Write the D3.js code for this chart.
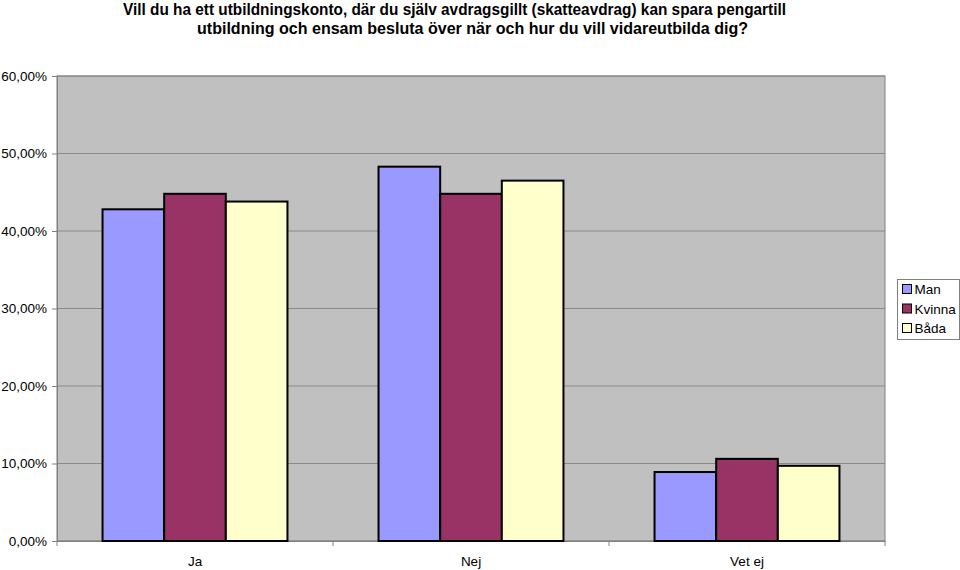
<!DOCTYPE html>
<html>
<head>
<meta charset="utf-8">
<script src="https://cdn.jsdelivr.net/npm/d3@7"></script>
<style>
  body { margin: 0; background: #fff; }
  text { font-family: Arial, "Liberation Sans", sans-serif; }
</style>
</head>
<body>
<div id="chart"></div>
<script>
var categories = ["Ja", "Nej", "Vet ej"];
var seriesNames = ["Man", "Kvinna", "Båda"];
var man = [42.8, 48.3, 8.9];
var kvinna = [44.8, 44.8, 10.6];
var bada = [43.8, 46.5, 9.7];
var yTicks = [0, 10, 20, 30, 40, 50, 60];
var titleLines = [
  "Vill du ha ett utbildningskonto, där du själv avdragsgillt (skatteavdrag) kan spara pengartill",
  "utbildning och ensam besluta över när och hur du vill vidareutbilda dig?"
];
var colors = ["#9999ff", "#993366", "#ffffcc"];

var W = 960, H = 570;
var margin = {top: 76, left: 57, right: 75, bottom: 29};
var width = W - margin.left - margin.right,
    height = H - margin.top - margin.bottom;

var svg = d3.select("#chart").append("svg")
    .attr("width", W).attr("height", H);

// title (squeezed a bit like the original)
var titleBox = [[123, 663], [197, 551]];
svg.selectAll(".title").data(titleLines).enter().append("text")
    .attr("x", function(d, i) { return titleBox[i][0]; })
    .attr("y", function(d, i) { return 15 + i * 19; })
    .attr("textLength", function(d, i) { return titleBox[i][1]; })
    .attr("lengthAdjust", "spacingAndGlyphs")
    .style("font-weight", "bold").style("font-size", "16px")
    .text(function(d) { return d; });

var g = svg.append("g").attr("transform", "translate(" + margin.left + "," + margin.top + ")");

var x0 = d3.scaleBand().domain(categories).range([0, width]).paddingInner(0).paddingOuter(0);
var x1 = d3.scaleBand().domain(seriesNames).range([x0.bandwidth() * 0.165, x0.bandwidth() * 0.835]);
var y = d3.scaleLinear().domain([0, 60]).range([height, 0]);

g.append("rect").attr("width", width).attr("height", height).attr("fill", "#c0c0c0");

// gridlines
g.selectAll(".grid").data(yTicks).enter().append("line")
    .attr("x1", 0).attr("x2", width)
    .attr("y1", function(d) { return y(d); }).attr("y2", function(d) { return y(d); })
    .attr("stroke", "#8a8a8a").attr("stroke-width", 1);

g.append("rect").attr("width", width).attr("height", height)
    .attr("fill", "none").attr("stroke", "#808080").attr("stroke-width", 1);

// y axis
var yAxis = g.append("g").call(d3.axisLeft(y).tickValues(yTicks).tickSize(5).tickPadding(5)
    .tickFormat(function(d) { return d3.format(".2f")(d).replace(".", ",") + "%"; }));
yAxis.select(".domain").attr("stroke", "#808080");
yAxis.selectAll(".tick line").attr("stroke", "#808080");
yAxis.selectAll("text").style("font-size", "13.5px").attr("fill", "#000");

// x axis
var xAxis = g.append("g").attr("transform", "translate(0," + height + ")")
    .call(d3.axisBottom(x0).tickSize(0).tickPadding(15));
xAxis.select(".domain").attr("stroke", "#808080");
xAxis.selectAll("text").style("font-size", "13.5px").attr("fill", "#000");
g.selectAll(".xsep").data(categories.concat([""])).enter().append("line")
    .attr("x1", function(d, i) { return i * x0.step(); })
    .attr("x2", function(d, i) { return i * x0.step(); })
    .attr("y1", height).attr("y2", height + 5).attr("stroke", "#808080");

// bars
var data = categories.map(function(c, i) {
  return {cat: c, values: [man[i], kvinna[i], bada[i]]};
});
var grp = g.selectAll(".grp").data(data).enter().append("g")
    .attr("transform", function(d) { return "translate(" + x0(d.cat) + ",0)"; });
grp.selectAll("rect").data(function(d) {
    return d.values.map(function(v, j) { return {name: seriesNames[j], value: v, j: j}; });
  }).enter().append("rect")
    .attr("x", function(d) { return x1(d.name); })
    .attr("width", x1.bandwidth())
    .attr("y", function(d) { return y(d.value); })
    .attr("height", function(d) { return height - y(d.value); })
    .attr("fill", function(d) { return colors[d.j]; })
    .attr("stroke", "#000").attr("stroke-width", 2);

// legend
var legend = svg.append("g").attr("transform", "translate(897.5,279.5)");
legend.append("rect").attr("width", 62).attr("height", 60)
    .attr("fill", "#fff").attr("stroke", "#808080");
var li = legend.selectAll(".li").data(seriesNames).enter().append("g")
    .attr("transform", function(d, i) { return "translate(5," + (5 + i * 19.5) + ")"; });
li.append("rect").attr("width", 9).attr("height", 9)
    .attr("fill", function(d, i) { return colors[i]; }).attr("stroke", "#000");
li.append("text").attr("x", 12).attr("y", 9.5).style("font-size", "13.5px").text(function(d) { return d; });
</script>
</body>
</html>
